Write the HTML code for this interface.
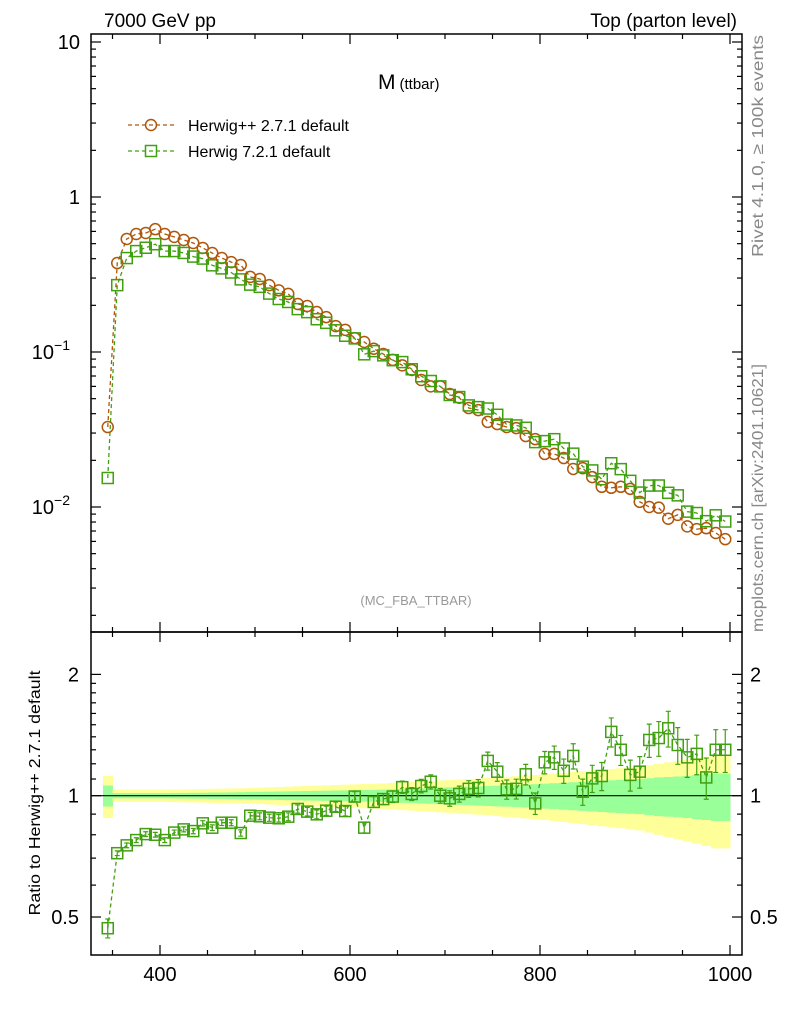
<!DOCTYPE html>
<html><head><meta charset="utf-8"><style>
body{margin:0;background:#fff;}
svg{display:block;font-family:"Liberation Sans",sans-serif;}
</style></head><body>
<svg id="chart" width="786" height="1024" viewBox="0 0 786 1024" xmlns="http://www.w3.org/2000/svg">
<text x="104" y="27" font-size="19">7000 GeV pp</text>
<text x="737" y="27" font-size="19" text-anchor="end">Top (parton level)</text>
<text x="378" y="89" font-size="21">M<tspan font-size="15" dx="4">(ttbar)</tspan></text>
<text x="416" y="605" font-size="13" fill="#999" text-anchor="middle">(MC_FBA_TTBAR)</text>
<text transform="translate(763,35) rotate(-90)" font-size="16" fill="#888" text-anchor="end" textLength="222" lengthAdjust="spacingAndGlyphs">Rivet 4.1.0, ≥ 100k events</text>
<text transform="translate(763,632) rotate(-90)" font-size="16" fill="#888" textLength="268" lengthAdjust="spacingAndGlyphs">mcplots.cern.ch [arXiv:2401.10621]</text>
<text transform="translate(40,793) rotate(-90)" font-size="16" text-anchor="middle" textLength="245" lengthAdjust="spacingAndGlyphs">Ratio to Herwig++ 2.7.1 default</text>
<g id="bands"></g><g id="ratioline"></g><g id="series"></g><g id="axes"></g>
<g>
<line x1="128" y1="125" x2="174" y2="125" stroke="#b0560a" stroke-width="1.3" stroke-dasharray="4,3"/>
<circle cx="151" cy="125" r="5.5" fill="none" stroke="#b0560a" stroke-width="1.5"/>
<text x="188" y="131" font-size="16">Herwig++ 2.7.1 default</text>
<line x1="128" y1="151" x2="174" y2="151" stroke="#40a010" stroke-width="1.3" stroke-dasharray="4,3"/>
<rect x="145.5" y="145.5" width="11" height="11" fill="none" stroke="#40a010" stroke-width="1.5"/>
<text x="188" y="157" font-size="16">Herwig 7.2.1 default</text>
</g>
</svg>
<script>
const binCenters=[345,355,365,375,385,395,405,415,425,435,445,455,465,475,485,495,505,515,525,535,545,555,565,575,585,595,605,615,625,635,645,655,665,675,685,695,705,715,725,735,745,755,765,775,785,795,805,815,825,835,845,855,865,875,885,895,905,915,925,935,945,955,965,975,985,995];
const herwigpp=[0.0328,0.375,0.536,0.577,0.586,0.62,0.577,0.553,0.528,0.505,0.469,0.435,0.404,0.38,0.364,0.305,0.296,0.27,0.25,0.237,0.204,0.198,0.181,0.168,0.147,0.139,0.123,0.116,0.105,0.097,0.089,0.082,0.0766,0.066,0.060,0.060,0.0536,0.0507,0.0435,0.0422,0.0354,0.0343,0.0328,0.0323,0.0287,0.0274,0.0220,0.0220,0.0207,0.0176,0.0178,0.0156,0.0135,0.0133,0.0135,0.0131,0.0108,0.0100,0.0099,0.0084,0.0089,0.0075,0.0072,0.0073,0.0068,0.0062];
const herwig7Ratio=[0.469,0.72,0.753,0.776,0.803,0.80,0.776,0.81,0.825,0.817,0.854,0.833,0.857,0.857,0.808,0.892,0.889,0.882,0.879,0.887,0.927,0.913,0.899,0.918,0.939,0.916,0.995,0.833,0.965,0.981,0.995,1.05,1.01,1.057,1.083,1.00,0.985,1.01,1.04,1.045,1.22,1.147,1.037,1.04,1.13,0.957,1.21,1.245,1.153,1.255,1.023,1.104,1.119,1.44,1.30,1.126,1.147,1.375,1.39,1.47,1.336,1.245,1.27,1.11,1.30,1.30];
const yellowErr=[0.12,0.035,0.035,0.035,0.035,0.035,0.035,0.036,0.037,0.038,0.039,0.04,0.041,0.042,0.043,0.045,0.047,0.049,0.051,0.053,0.055,0.057,0.059,0.061,0.063,0.065,0.067,0.069,0.071,0.073,0.076,0.079,0.082,0.085,0.088,0.091,0.094,0.097,0.1,0.103,0.106,0.11,0.114,0.118,0.122,0.126,0.13,0.135,0.14,0.145,0.15,0.155,0.16,0.165,0.17,0.175,0.18,0.19,0.2,0.21,0.22,0.23,0.24,0.25,0.26,0.26];
const greenErr=[0.06,0.015,0.015,0.015,0.015,0.015,0.015,0.016,0.016,0.017,0.017,0.018,0.018,0.019,0.02,0.021,0.022,0.023,0.024,0.025,0.026,0.027,0.028,0.029,0.03,0.031,0.032,0.033,0.034,0.035,0.037,0.039,0.041,0.043,0.045,0.047,0.049,0.051,0.053,0.055,0.057,0.059,0.061,0.063,0.065,0.068,0.071,0.074,0.077,0.08,0.083,0.086,0.089,0.092,0.095,0.098,0.1,0.105,0.11,0.113,0.116,0.12,0.125,0.13,0.135,0.135];
const xTickLabels=["400","600","800","1000"];
const mainTickLabels=[{v:10,t:"10"},{v:1,t:"1"},{v:0.1,t:"10",e:"−1"},{v:0.01,t:"10",e:"−2"}];
const ratioTickLabels=["0.5","1","2"];

const NS="http://www.w3.org/2000/svg";
const L=91,R=742,T=34,MB=632,RB=955;
const X=c=>160+(c-400)*0.95;
const Y=v=>507-155*(Math.log10(v)+2);
const YR=r=>795.7-403*Math.log10(r);
function mk(tag,attrs,parent){const e=document.createElementNS(NS,tag);for(const k in attrs)e.setAttribute(k,attrs[k]);parent.appendChild(e);return e;}
const bands=document.getElementById('bands'),series=document.getElementById('series'),axes=document.getElementById('axes'),rl=document.getElementById('ratioline');
binCenters.forEach((c,i)=>{
  const x0=X(c-5),x1=X(c+5);
  let e=mk('rect',{x:x0,y:YR(1+yellowErr[i]),width:x1-x0+0.5,height:YR(1-yellowErr[i])-YR(1+yellowErr[i]),fill:'#ffff99'},bands);
  
  
  e=mk('rect',{x:x0,y:YR(1+greenErr[i]),width:x1-x0+0.5,height:YR(1-greenErr[i])-YR(1+greenErr[i]),fill:'#99ff99'},bands);
  
  
});
let ln=mk('line',{x1:L,x2:R,y1:YR(1),y2:YR(1),stroke:'#000','stroke-width':1.2},rl);


const oc='#b0560a',gc='#40a010';
const green=herwigpp.map((v,i)=>v*herwig7Ratio[i]);
function poly(vals,yf,color,name){
  const p=mk('polyline',{points:binCenters.map((c,i)=>X(c)+','+yf(vals[i])).join(' '),fill:'none',stroke:color,'stroke-width':1.3,'stroke-dasharray':'4,3'},series);
  
  
}
poly(herwigpp,Y,oc,'herwigpp-line');
poly(green,Y,gc,'herwig7-line');
poly(herwig7Ratio,YR,gc,'herwig7-ratio-line');
binCenters.forEach((c,i)=>{
  let e=mk('circle',{cx:X(c),cy:Y(herwigpp[i]),r:5.5,fill:'none',stroke:oc,'stroke-width':1.5},series);
  
  
  e=mk('rect',{x:X(c)-5.5,y:Y(green[i])-5.5,width:11,height:11,fill:'none',stroke:gc,'stroke-width':1.5},series);
  
  
  const yr=YR(herwig7Ratio[i]);
  const eu=YR(herwig7Ratio[i]*(1+greenErr[i]*0.9)),ed=YR(herwig7Ratio[i]*(1-greenErr[i]*0.9));
  e=mk('path',{d:`M${X(c)},${eu}V${ed}M${X(c)-2.5},${eu}h5M${X(c)-2.5},${ed}h5`,stroke:gc,'stroke-width':1.2,fill:'none'},series);
  
  
  e=mk('rect',{x:X(c)-5.5,y:yr-5.5,width:11,height:11,fill:'none',stroke:gc,'stroke-width':1.5},series);
  
  
});
let f=mk('rect',{x:L,y:T,width:R-L,height:MB-T,fill:'none',stroke:'#000','stroke-width':1.5},axes);


f=mk('rect',{x:L,y:MB,width:R-L,height:RB-MB,fill:'none',stroke:'#000','stroke-width':1.5},axes);


for(let c=350;c<=1000;c+=50){
  const maj=c%200===0,len=maj?10:5,x=X(c);
  [[T,1],[MB,-1],[MB,1],[RB,-1]].forEach(([y,d])=>{
    const t=mk('line',{x1:x,x2:x,y1:y,y2:y+d*len,stroke:'#000','stroke-width':1.2},axes);
    
    
  });
}
xTickLabels.forEach(s=>{
  const t=mk('text',{x:X(+s),y:981,'font-size':20,'text-anchor':'middle'},axes);t.textContent=s;
  
  
});
for(let d=-3;d<=1;d++)for(let m=1;m<=9;m++){
  const v=m*Math.pow(10,d),y=Y(v);if(y<T||y>MB)continue;
  const len=m===1?10:5;
  [[L,1],[R,-1]].forEach(([x,s])=>{
    const t=mk('line',{x1:x,x2:x+s*len,y1:y,y2:y,stroke:'#000','stroke-width':1.2},axes);
    
    
  });
}
mainTickLabels.forEach(o=>{
  const t=mk('text',{x:80,y:Y(o.v)+7,'font-size':20,'text-anchor':'end'},axes);
  t.textContent=o.t;
  if(o.e){t.setAttribute('x',70);const s=mk('tspan',{'font-size':14,dy:-9},t);s.textContent=o.e;}
  
  
});
[0.5,0.6,0.7,0.8,0.9,1,1.1,1.2,1.3,1.4,1.5,1.6,1.7,1.8,1.9,2].forEach(v=>{
  const y=YR(v),maj=(v===0.5||v===1||v===2),len=maj?10:5;
  [[L,1],[R,-1]].forEach(([x,s])=>{
    const t=mk('line',{x1:x,x2:x+s*len,y1:y,y2:y,stroke:'#000','stroke-width':1.2},axes);
    
    
  });
});
ratioTickLabels.forEach(s=>{
  let t=mk('text',{x:79,y:YR(+s)+7,'font-size':20,'text-anchor':'end'},axes);t.textContent=s;
  
  
  t=mk('text',{x:750,y:YR(+s)+7,'font-size':20},axes);t.textContent=s;
  
  
});
</script>
</body></html>
